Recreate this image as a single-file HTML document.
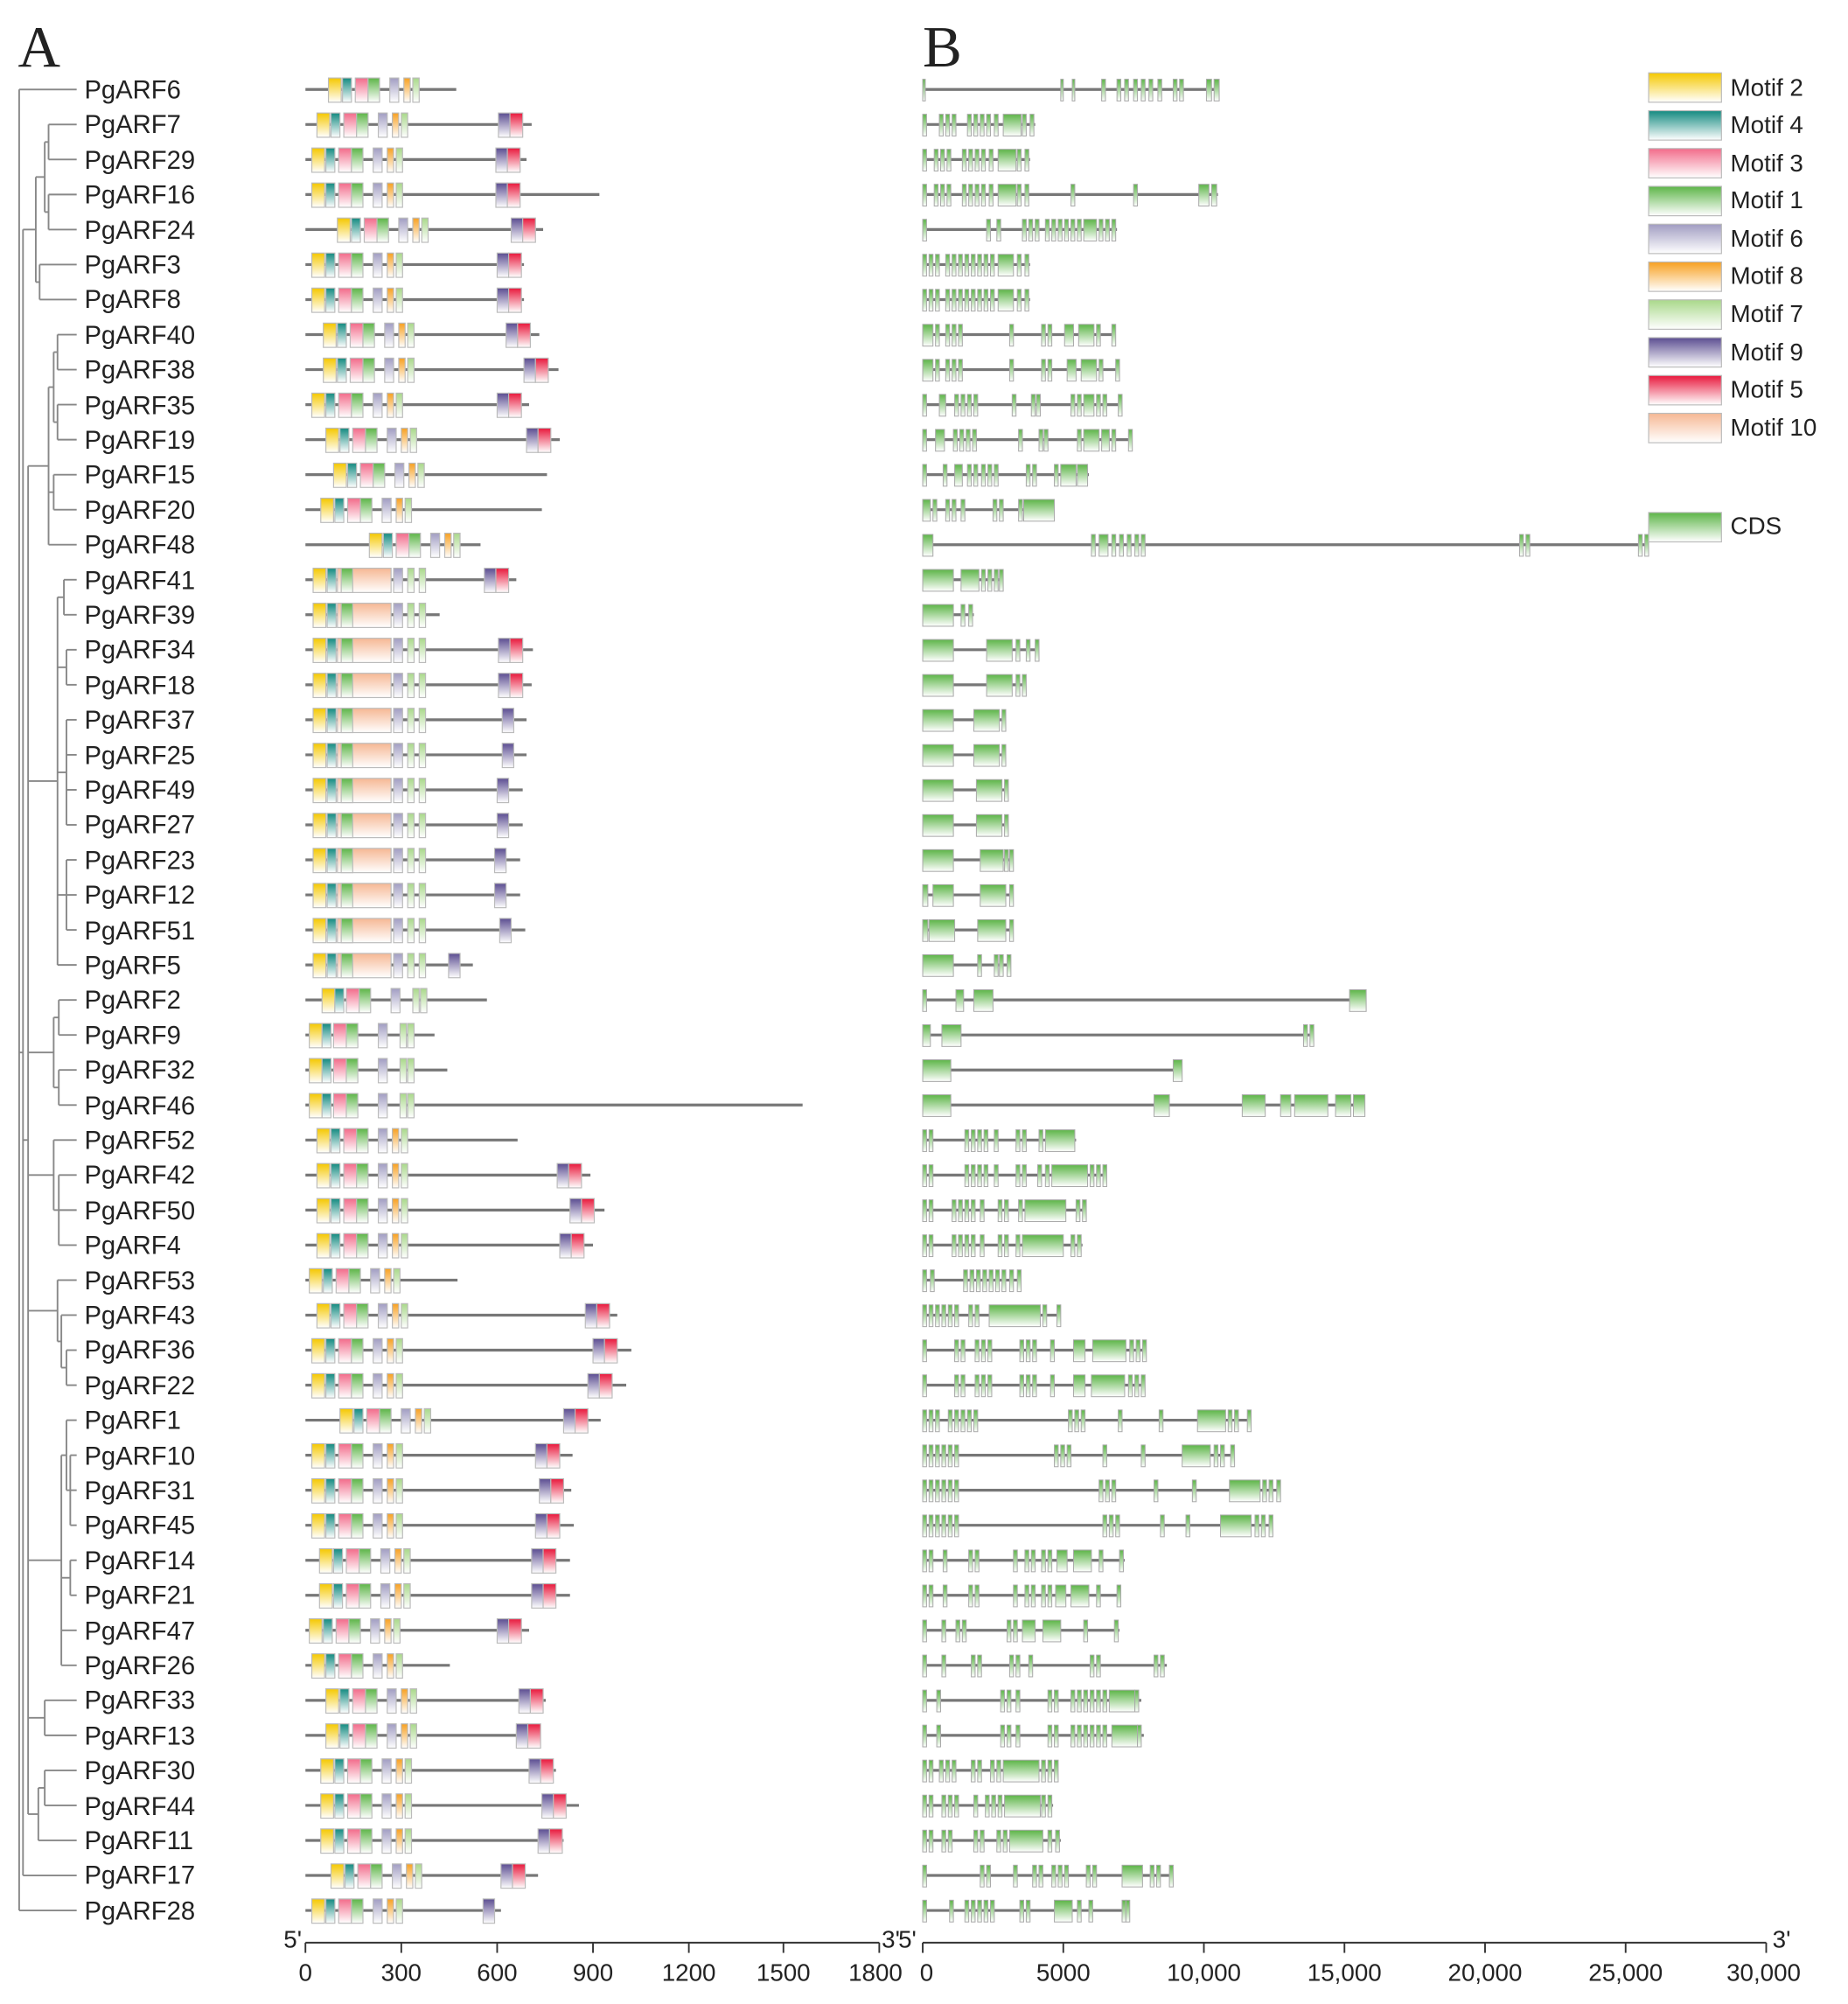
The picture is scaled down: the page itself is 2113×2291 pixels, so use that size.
<!DOCTYPE html>
<html><head><meta charset="utf-8"><style>
html,body{margin:0;padding:0;background:#fff}
svg{display:block}
text{font-family:"Liberation Sans",Arial,sans-serif;fill:#222}
</style></head><body>
<svg id="s" width="2113" height="2291" viewBox="0 0 1446 1568" preserveAspectRatio="none" xmlns="http://www.w3.org/2000/svg">
<defs>
<linearGradient id="gY" x1="0" y1="0" x2="0" y2="1"><stop offset="0" stop-color="#f5c800"/><stop offset="1" stop-color="#fff"/></linearGradient>
<linearGradient id="gT" x1="0" y1="0" x2="0" y2="1"><stop offset="0" stop-color="#138a80"/><stop offset="1" stop-color="#fff"/></linearGradient>
<linearGradient id="gP" x1="0" y1="0" x2="0" y2="1"><stop offset="0" stop-color="#f26b8a"/><stop offset="1" stop-color="#fff"/></linearGradient>
<linearGradient id="gG" x1="0" y1="0" x2="0" y2="1"><stop offset="0" stop-color="#5db548"/><stop offset="1" stop-color="#fff"/></linearGradient>
<linearGradient id="gL" x1="0" y1="0" x2="0" y2="1"><stop offset="0" stop-color="#a19dc2"/><stop offset="1" stop-color="#fff"/></linearGradient>
<linearGradient id="gO" x1="0" y1="0" x2="0" y2="1"><stop offset="0" stop-color="#f7a020"/><stop offset="1" stop-color="#fff"/></linearGradient>
<linearGradient id="gLG" x1="0" y1="0" x2="0" y2="1"><stop offset="0" stop-color="#a9d88a"/><stop offset="1" stop-color="#fff"/></linearGradient>
<linearGradient id="gV" x1="0" y1="0" x2="0" y2="1"><stop offset="0" stop-color="#5b4d91"/><stop offset="1" stop-color="#fff"/></linearGradient>
<linearGradient id="gR" x1="0" y1="0" x2="0" y2="1"><stop offset="0" stop-color="#e8183c"/><stop offset="1" stop-color="#fff"/></linearGradient>
<linearGradient id="gX" x1="0" y1="0" x2="0" y2="1"><stop offset="0" stop-color="#f6b894"/><stop offset="1" stop-color="#fff"/></linearGradient>
</defs>
<text x="14" y="52" style="font-family:'Liberation Serif',serif;font-size:46px">A</text>
<text x="722" y="52" style="font-family:'Liberation Serif',serif;font-size:46px">B</text>
<g id="tree" stroke="#888" stroke-width="1.3" fill="none"></g>
<g id="labels" font-size="20">
<text x="66" y="77">PgARF6</text><text x="66" y="104">PgARF7</text><text x="66" y="132">PgARF29</text><text x="66" y="159">PgARF16</text><text x="66" y="187">PgARF24</text><text x="66" y="214">PgARF3</text><text x="66" y="241">PgARF8</text><text x="66" y="269">PgARF40</text><text x="66" y="296">PgARF38</text><text x="66" y="324">PgARF35</text><text x="66" y="351">PgARF19</text><text x="66" y="378">PgARF15</text><text x="66" y="406">PgARF20</text><text x="66" y="433">PgARF48</text><text x="66" y="461">PgARF41</text><text x="66" y="488">PgARF39</text><text x="66" y="515">PgARF34</text><text x="66" y="543">PgARF18</text><text x="66" y="570">PgARF37</text><text x="66" y="598">PgARF25</text><text x="66" y="625">PgARF49</text><text x="66" y="652">PgARF27</text><text x="66" y="680">PgARF23</text><text x="66" y="707">PgARF12</text><text x="66" y="735">PgARF51</text><text x="66" y="762">PgARF5</text><text x="66" y="789">PgARF2</text><text x="66" y="817">PgARF9</text><text x="66" y="844">PgARF32</text><text x="66" y="872">PgARF46</text><text x="66" y="899">PgARF52</text><text x="66" y="926">PgARF42</text><text x="66" y="954">PgARF50</text><text x="66" y="981">PgARF4</text><text x="66" y="1009">PgARF53</text><text x="66" y="1036">PgARF43</text><text x="66" y="1063">PgARF36</text><text x="66" y="1091">PgARF22</text><text x="66" y="1118">PgARF1</text><text x="66" y="1146">PgARF10</text><text x="66" y="1173">PgARF31</text><text x="66" y="1200">PgARF45</text><text x="66" y="1228">PgARF14</text><text x="66" y="1255">PgARF21</text><text x="66" y="1283">PgARF47</text><text x="66" y="1310">PgARF26</text><text x="66" y="1337">PgARF33</text><text x="66" y="1365">PgARF13</text><text x="66" y="1392">PgARF30</text><text x="66" y="1420">PgARF44</text><text x="66" y="1447">PgARF11</text><text x="66" y="1474">PgARF17</text><text x="66" y="1502">PgARF28</text>
</g>
<g id="A"></g>
<g id="B"></g>
<g id="leg" font-size="19">
<text x="1354" y="75">Motif 2</text><text x="1354" y="104">Motif 4</text><text x="1354" y="134">Motif 3</text><text x="1354" y="163">Motif 1</text><text x="1354" y="193">Motif 6</text><text x="1354" y="222">Motif 8</text><text x="1354" y="252">Motif 7</text><text x="1354" y="282">Motif 9</text><text x="1354" y="311">Motif 5</text><text x="1354" y="341">Motif 10</text><text x="1354" y="418">CDS</text>
</g>
<g stroke="#333" stroke-width="1.3">
<line x1="239" y1="1520" x2="688" y2="1520"/><line x1="722" y1="1520" x2="1382" y2="1520"/>
<line x1="239" y1="1520" x2="239" y2="1528"/><line x1="314" y1="1520" x2="314" y2="1528"/><line x1="389" y1="1520" x2="389" y2="1528"/><line x1="464" y1="1520" x2="464" y2="1528"/><line x1="539" y1="1520" x2="539" y2="1528"/><line x1="613" y1="1520" x2="613" y2="1528"/><line x1="688" y1="1520" x2="688" y2="1528"/>
<line x1="722" y1="1520" x2="722" y2="1528"/><line x1="832" y1="1520" x2="832" y2="1528"/><line x1="942" y1="1520" x2="942" y2="1528"/><line x1="1052" y1="1520" x2="1052" y2="1528"/><line x1="1162" y1="1520" x2="1162" y2="1528"/><line x1="1272" y1="1520" x2="1272" y2="1528"/><line x1="1382" y1="1520" x2="1382" y2="1528"/>
</g>
<g font-size="19" text-anchor="middle">
<text x="229" y="1524">5'</text><text x="697" y="1524">3'</text><text x="710" y="1524">5'</text><text x="1394" y="1524">3'</text>
<text x="239" y="1550">0</text><text x="314" y="1550">300</text><text x="389" y="1550">600</text><text x="464" y="1550">900</text><text x="539" y="1550">1200</text><text x="613" y="1550">1500</text><text x="685" y="1550">1800</text>
<text x="725" y="1550">0</text><text x="832" y="1550">5000</text><text x="942" y="1550">10,000</text><text x="1052" y="1550">15,000</text><text x="1162" y="1550">20,000</text><text x="1272" y="1550">25,000</text><text x="1380" y="1550">30,000</text>
</g>
</svg>
<script>
var NS="http://www.w3.org/2000/svg";
function el(p,t,a){var e=document.createElementNS(NS,t);for(var k in a)e.setAttribute(k,a[k]);p.appendChild(e);return e;}
function Y(i){return 70+i*27.4;}
var A=document.getElementById('A'),B=document.getElementById('B'),T=document.getElementById('tree'),L=document.getElementById('leg');
function box(p,x,y,w,g){el(p,'rect',{x:x,y:y-9,width:w,height:19,fill:'url(#'+g+')',stroke:'#bbb','stroke-width':0.8});}
var lg=['gY','gT','gP','gG','gL','gO','gLG','gV','gR','gX'];
for(var i=0;i<10;i++)el(L,'rect',{x:1290,y:57+i*29.6,width:57,height:23,fill:'url(#'+lg[i]+')',stroke:'#bbb','stroke-width':0.8});
el(L,'rect',{x:1290,y:401,width:57,height:23,fill:'url(#gG)',stroke:'#bbb','stroke-width':0.8});
var M=[[357,'a',257,0],[416,'a',248,390],[412,'a',244,388],[469,'a',244,388],[425,'a',264,400],[410,'a',244,389],[410,'a',244,389],[422,'a',253,396],[437,'a',253,410],[414,'a',244,389],[438,'a',255,412],[428,'a',261,0],[424,'a',251,0],[376,'a',289,0],
[404,'b',242,379],[344,'b',242,0],[417,'b',242,390],[416,'b',242,390],[412,'b',242,393,1],[412,'b',242,393,1],[409,'b',242,389,1],[409,'b',242,389,1],[407,'b',242,387,1],[407,'b',242,387,1],[411,'b',242,391,1],[370,'b',242,351,1],
[381,'c',249,0],[340,'c',239,0],[350,'c',239,0],[628,'c',239,0],
[405,'a',248,0],[462,'a',248,436],[473,'a',248,446],[464,'a',248,438],[358,'a',242,0],[483,'a',248,458],[494,'a',244,464],[490,'a',244,460],[470,'a',266,441],[448,'a',244,419],[447,'a',244,422],[449,'a',244,419],[446,'a',250,416],[446,'a',250,416],[414,'a',242,389],[352,'a',244,0],[427,'a',255,406],[423,'a',255,404],[435,'a',251,414],[453,'a',251,424],[441,'a',251,421],[421,'a',259,392],[392,'a',244,378,1]];
var TA=[[0,10,'gY'],[11,7,'gT'],[21,10,'gP'],[31,9,'gG'],[48,7,'gL'],[59,5,'gO'],[66,5,'gLG']];
var TB=[[3,10,'gY'],[14,7,'gT'],[22,42,'gX'],[25,9,'gG'],[66,7,'gL'],[77,5,'gLG'],[86,5,'gLG']];
var TC=[[3,10,'gY'],[13,7,'gT'],[22,10,'gP'],[32,9,'gG'],[57,7,'gL'],[74,5,'gLG'],[80,5,'gLG']];
M.forEach(function(m,i){var y=Y(i);el(A,'line',{x1:239,y1:y,x2:m[0],y2:y,stroke:'#777','stroke-width':2.2});
var t=m[1]=='a'?TA:m[1]=='b'?TB:TC;t.forEach(function(q){box(A,m[2]+q[0],y,q[1],q[2]);});
if(m[3]){box(A,m[3],y,9,'gV');if(!m[4])box(A,m[3]+9,y,10,'gR');}});
var G=["953|722:2,830:2,839:2,862,874,880,887,893,899,906,918,923,944:4,950:4",
"810|722,735,740,745,757,762,767,772,778,785:14,800,806",
"806|722,731,736,741,753,758,763,768,774,781:14,796,802",
"953|722,731,736,741,753,758,763,768,774,781:14,796,802,838,887,938:8,948:4",
"874|722,772,780,800,805,810,818,823,828,833,838,843,848:10,860,865,870",
"806|722,727,732,740,745,750,755,760,765,770,775,781:12,796,802",
"806|722,727,732,740,745,750,755,760,765,770,775,781:12,796,802",
"873|722:8,732,740,745,750,790,815,820,833:7,844:12,858,870",
"876|722:8,732,740,745,750,790,815,820,835:7,846:12,860,873",
"878|722,735:5,747,752,757,762,792,807,811,838,843,848:8,858,863,875",
"886|722,732:7,746,751,756,761,797,813,817,843,848:12,862:6,870,883",
"852|722,738,747:6,757,762,768,773,778,803,808,825,830:12,843:8",
"825|722:6,730,740,745,752,777,782,797,801:24",
"1290|722:8,854,860:7,870,876,882,888,893,1189,1194,1282,1287",
"784|722:24,752:14,768,773,778,782","762|722:24,752,758","812|722:24,772:20,795,803,810","803|722:24,772:20,795,800",
"786|722:24,762:20,784","786|722:24,762:20,784","788|722:24,764:20,786","788|722:24,764:20,786","793|722:24,767:18,786,790",
"793|722:4,730:16,767:20,790","792|722:4,727:20,765:22,790","791|722:24,765,778,782,788",
"1069|722,748:6,762:15,1056:13","1027|722:6,737:15,1020,1025","925|722:22,918:7","1068|722:22,903:12,972:18,1002:8,1013:26,1045:12,1059:9",
"842|722,727,755,760,765,770,778,795,800,813,818:23","866|722,727,755,760,765,770,778,795,800,812,818,823:28,853,858,863",
"850|722,727,745,750,755,760,767,781,786,797,802:32,842,847","847|722,727,745,750,755,760,767,781,786,795,800:32,838,843",
"799|722,728,754,759,764,769,774,779,784,790,796","830|722,727,732,737,742,747,758,763,774:40,816,827",
"896|722,747,752,763,768,773,798,803,808,822,840:9,855:26,884,889,894","895|722,747,752,763,768,773,798,803,808,822,840:9,854:26,883,888,893",
"979|722,727,732,742,747,752,757,762,836,841,846,875,907,937:22,961,966,976","966|722,727,732,737,742,747,825,830,835,863,893,925:22,950,955,963",
"1002|722,727,732,737,742,747,860,865,870,903,933,962:24,988,993,999","996|722,727,732,737,742,747,863,868,873,908,928,955:24,982,987,993",
"880|722,727,738,758,763,793,802,807,815,820,827:8,840:14,860,876","877|722,727,738,758,763,793,802,807,815,820,826:8,838:14,858,874",
"876|722,737,748,753,788,793,800:10,816:14,848,872","913|722,737,760,765,790,795,805,853,858,903,908",
"893|722,733,783,788,795,820,825,838,843,848,853,858,863,868:20,888","895|722,733,783,788,795,820,825,838,843,848,853,858,863,870:20,890",
"828|722,727,735,740,745,760,765,775,780,785:28,815,820,825","824|722,727,737,742,747,762,771,776,781,786:28,815,820",
"830|722,727,737,742,762,767,780,785,790:26,820,826","918|722,767,772,793,808,813,823,828,833,850,855,878:16,900,905,915",
"882|722,743,755,760,765,770,775,798,803,825:14,843,852,878,881"];
G.forEach(function(s,i){var y=Y(i),p=s.split('|');el(B,'line',{x1:722,y1:y,x2:+p[0],y2:y,stroke:'#777','stroke-width':2.2});
p[1].split(',').forEach(function(e){var q=e.split(':');el(B,'rect',{x:+q[0],y:y-8,width:q[1]?+q[1]:3,height:17,fill:'url(#gG)',stroke:'#aaa','stroke-width':0.7});});});
function N(x,c){return {x:x,c:c};}
var tree=N(15,[0,N(18,[N(28,[N(35,[N(38,[1,2]),N(38,[3,4])]),N(31,[5,6])]),
 N(22,[N(38,[N(42,[N(45,[7,8]),N(45,[9,10])]),N(42,[11,12]),13]),
  N(45,[N(50,[14,15]),N(52,[16,17]),N(52,[18,19,20,21]),N(52,[22,23,24]),25]),
  N(42,[N(46,[26,27]),N(46,[28,29])]),N(42,[30,N(46,[31,32,33])]),
  N(45,[34,N(48,[35,N(52,[36,37])])]),
  N(48,[N(52,[38,N(55,[39,40,41])]),N(55,[42,43]),44,45]),
  N(35,[46,47]),N(30,[N(35,[48,49]),50])]),51]),52]);
function draw(n){if(typeof n=='number')return {y:Y(n),x:60};
var ys=n.c.map(function(c){var r=draw(c);el(T,'line',{x1:n.x,y1:r.y,x2:r.x,y2:r.y});return r.y;});
var a=Math.min.apply(0,ys),b=Math.max.apply(0,ys);el(T,'line',{x1:n.x,y1:a,x2:n.x,y2:b});
return {y:(a+b)/2,x:n.x};}
draw(tree);
</script>
</body></html>
